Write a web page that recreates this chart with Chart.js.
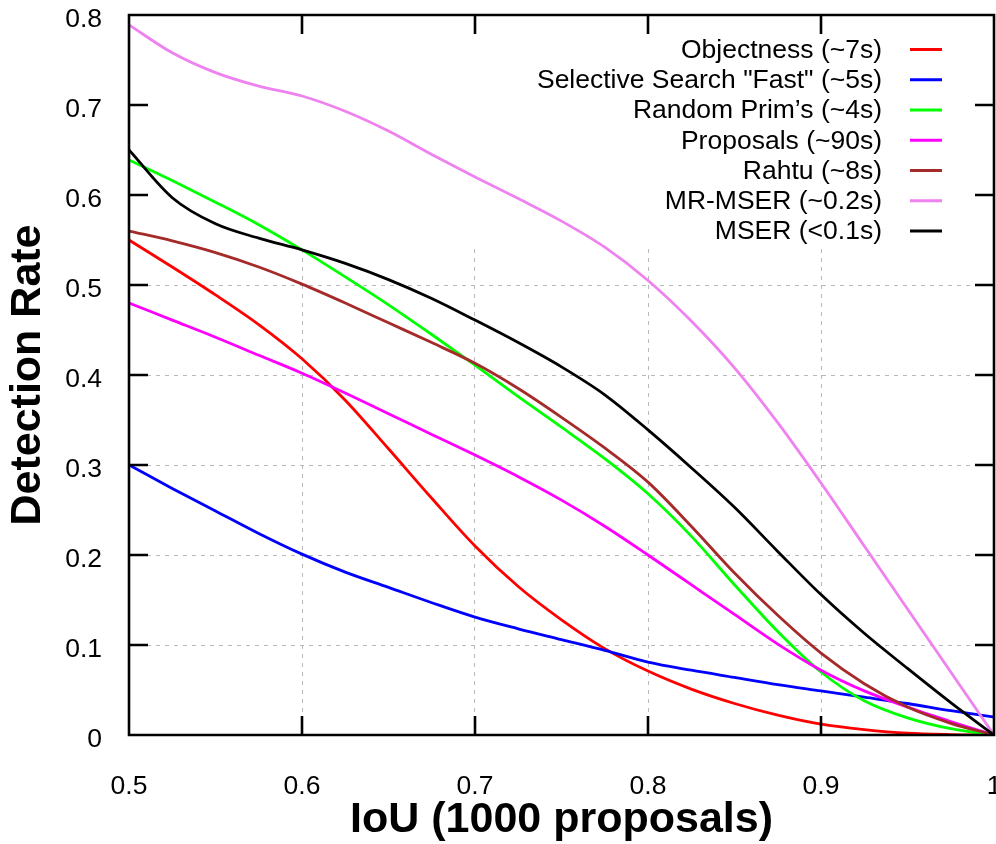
<!DOCTYPE html>
<html>
<head>
<meta charset="utf-8">
<script src="https://cdn.jsdelivr.net/npm/chart.js@4"></script>
<style>
  html, body { margin: 0; padding: 0; background: #fff; }
  #wrap { width: 996px; height: 844px; position: relative; }
</style>
</head>
<body>
<div id="wrap"><canvas id="chart"></canvas></div>
<script>
// IoU thresholds (x) and detection rates
const IOU = [0.5, 0.525, 0.55, 0.575, 0.6, 0.625, 0.65, 0.675, 0.7, 0.725, 0.75,
             0.775, 0.8, 0.825, 0.85, 0.875, 0.9, 0.925, 0.95, 0.975, 1.0];

const OBJECTNESS = [0.55, 0.52, 0.489, 0.456, 0.418, 0.372, 0.318, 0.263, 0.21, 0.165, 0.128,
                    0.096, 0.071, 0.051, 0.035, 0.022, 0.012, 0.006, 0.002, 0.0005, 0];
const SELECTIVE  = [0.30, 0.274, 0.249, 0.224, 0.201, 0.181, 0.164, 0.147, 0.131, 0.118, 0.106,
                    0.094, 0.081, 0.072, 0.064, 0.056, 0.049, 0.042, 0.035, 0.027, 0.02];
const RAND_PRIM  = [0.639, 0.616, 0.592, 0.567, 0.539, 0.509, 0.478, 0.445, 0.411, 0.376, 0.342,
                    0.307, 0.268, 0.221, 0.167, 0.115, 0.07, 0.038, 0.019, 0.007, 0];
const PROPOSALS  = [0.48, 0.461, 0.442, 0.422, 0.402, 0.38, 0.357, 0.334, 0.311, 0.287, 0.261,
                    0.232, 0.2, 0.167, 0.134, 0.101, 0.072, 0.049, 0.031, 0.015, 0];
const RAHTU      = [0.56, 0.549, 0.536, 0.52, 0.501, 0.48, 0.458, 0.436, 0.413, 0.385, 0.353,
                    0.319, 0.281, 0.232, 0.18, 0.133, 0.091, 0.057, 0.031, 0.013, 0];
const MR_MSER    = [0.789, 0.758, 0.736, 0.721, 0.710, 0.693, 0.671, 0.645, 0.62, 0.596, 0.571,
                    0.542, 0.505, 0.46, 0.408, 0.347, 0.28, 0.21, 0.14, 0.07, 0];
const MSER       = [0.65, 0.597, 0.568, 0.552, 0.539, 0.524, 0.506, 0.485, 0.461, 0.436, 0.409,
                    0.378, 0.339, 0.297, 0.253, 0.204, 0.156, 0.113, 0.074, 0.036, 0];

const NAMES = ['Objectness (~7s)', 'Selective Search "Fast" (~5s)', 'Random Prim\u2019s (~4s)',
  'Proposals (~90s)', 'Rahtu (~8s)', 'MR-MSER (~0.2s)', 'MSER (<0.1s)'];
const COLORS = ['#ff0000', '#0000ff', '#00ff00', '#ff00ff', '#a52a2a', '#ee82ee', '#000000'];
const SERIES = [OBJECTNESS, SELECTIVE, RAND_PRIM, PROPOSALS, RAHTU, MR_MSER, MSER];

const FONT = "'Liberation Sans', Arial, Helvetica, sans-serif";
const fmt = v => String(+(+v).toFixed(1));

const datasets = SERIES.map((ys, i) => ({
  label: NAMES[i],
  data: IOU.map((x, k) => ({ x, y: ys[k] })),
  borderColor: COLORS[i],
  backgroundColor: COLORS[i],
  borderWidth: 2.8,
  pointRadius: 0,
  fill: false,
  cubicInterpolationMode: 'monotone',
  order: SERIES.length - i   // later series drawn on top, like gnuplot
}));

// gnuplot-like frame: opaque key band, border, inward ticks, key
const gnuFrame = {
  id: 'gnuFrame',
  beforeDatasetsDraw(chart) {
    const { ctx, chartArea: a } = chart;
    ctx.save();
    ctx.fillStyle = '#fff';
    ctx.fillRect(a.left, a.top, a.right - a.left, 233);
    ctx.restore();
  },
  afterDatasetsDraw(chart) {
    const { ctx, chartArea: a, scales: { x, y } } = chart;
    ctx.save();
    ctx.strokeStyle = '#000';
    ctx.lineWidth = 2.6;
    ctx.beginPath();
    ctx.rect(a.left, a.top, a.right - a.left, a.bottom - a.top);
    const tl = 19;
    x.ticks.forEach(t => {
      const px = x.getPixelForValue(t.value);
      ctx.moveTo(px, a.bottom); ctx.lineTo(px, a.bottom - tl);
      ctx.moveTo(px, a.top); ctx.lineTo(px, a.top + tl);
    });
    y.ticks.forEach(t => {
      const py = y.getPixelForValue(t.value);
      ctx.moveTo(a.left, py); ctx.lineTo(a.left + tl, py);
      ctx.moveTo(a.right, py); ctx.lineTo(a.right - tl, py);
    });
    ctx.stroke();
    ctx.restore();
  },
  afterDraw(chart) {
    const { ctx } = chart;
    ctx.save();
    ctx.font = '26.5px ' + FONT;
    ctx.textAlign = 'right';
    ctx.textBaseline = 'middle';
    ctx.fillStyle = '#000';
    chart.data.datasets.forEach((ds, i) => {
      const yy = 49.5 + i * 30.25;
      ctx.fillText(ds.label, 882, yy + 1);
      ctx.strokeStyle = ds.borderColor;
      ctx.lineWidth = 3;
      ctx.beginPath();
      ctx.moveTo(910, yy); ctx.lineTo(942, yy);
      ctx.stroke();
    });
    ctx.restore();
  }
};

new Chart(document.getElementById('chart'), {
  type: 'line',
  data: { datasets },
  plugins: [gnuFrame],
  options: {
    responsive: true,
    maintainAspectRatio: false,
    animation: false,
    layout: { padding: { top: 15, right: 2, left: 0, bottom: 0 } },
    plugins: { legend: { display: false }, tooltip: { enabled: false } },
    scales: {
      x: {
        type: 'linear',
        min: 0.5, max: 1,
        afterFit: s => { s.height = 109; s.paddingLeft = 0; s.paddingRight = 0; },
        ticks: { stepSize: 0.1, callback: fmt, color: '#000', padding: 36, maxRotation: 0,
                 font: { family: FONT, size: 26.5 } },
        grid: { color: '#b8b8b8', lineWidth: 1, drawTicks: false },
        border: { display: false, dash: [4, 5] },
        title: { display: true, text: 'IoU (1000 proposals)', color: '#000',
                 font: { family: FONT, size: 43, weight: 'bold', lineHeight: 1 },
                 padding: { top: 0, bottom: 2 } }
      },
      y: {
        min: 0, max: 0.8,
        afterFit: s => { s.width = 129; s.paddingTop = 0; s.paddingBottom = 0; },
        ticks: { stepSize: 0.1, callback: fmt, color: '#000', padding: 27, labelOffset: 5,
                 font: { family: FONT, size: 26.5 } },
        grid: { color: '#b8b8b8', lineWidth: 1, drawTicks: false },
        border: { display: false, dash: [4, 5] },
        title: { display: true, text: 'Detection Rate', color: '#000',
                 font: { family: FONT, size: 43, weight: 'bold', lineHeight: 1 },
                 padding: { top: 7, bottom: 0 } }
      }
    }
  }
});
</script>
</body>
</html>
